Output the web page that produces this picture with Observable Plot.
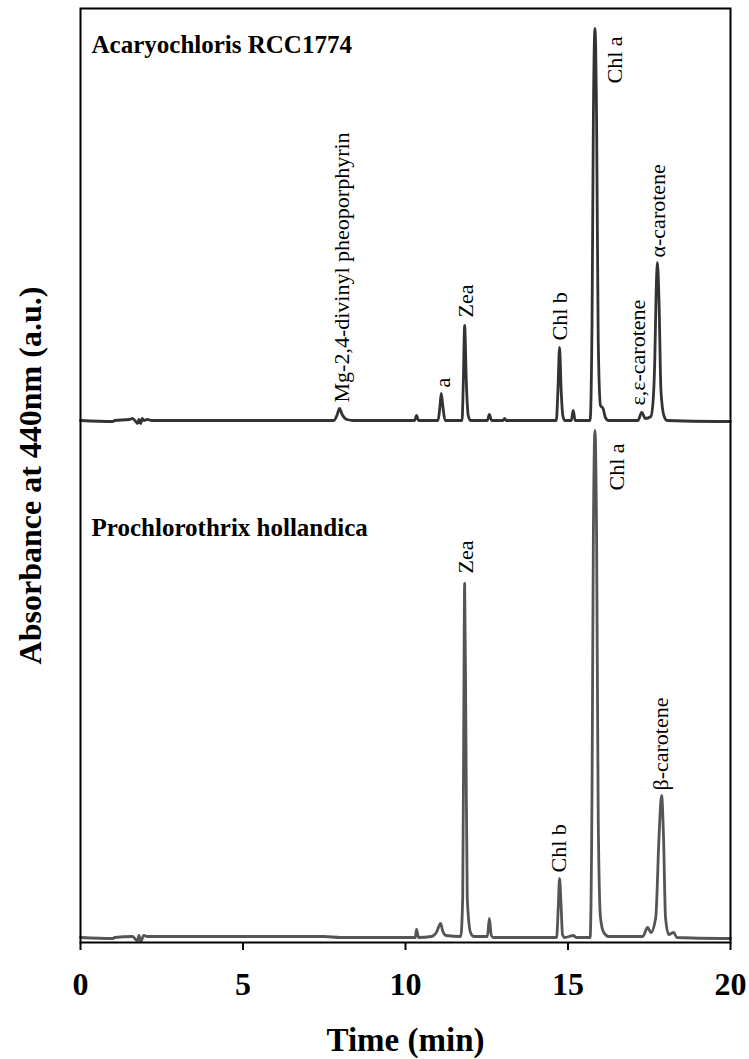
<!DOCTYPE html>
<html>
<head>
<meta charset="utf-8">
<script src="https://cdn.jsdelivr.net/npm/d3@7"></script>
<script src="https://cdn.jsdelivr.net/npm/@observablehq/plot@0.6"></script>
<style>body{margin:0;background:#fff}</style>
</head>
<body>
<div id="chart"></div>
<script>
// x tick values (min)
const xTicks = [0, 5, 10, 15, 20];

// Vertical offsets used to stack the two chromatograms (a.u.)
const upperOffset = 522;
const lowerOffset = 5;

// Acaryochloris RCC1774 trace: time (min) and absorbance above its baseline (a.u.)
const upperTime = [0, 1.0, 1.05, 1.5, 1.6, 1.7, 1.75, 1.8, 1.85, 1.9, 1.95, 2.05, 2.2, 4, 7.8, 7.9, 7.97, 8.05, 8.2, 8.4,
  10.28, 10.34, 10.4, 11.0, 11.06, 11.1, 11.15, 11.22, 11.74, 11.78, 11.82, 11.87, 11.93, 12.0,
  12.52, 12.58, 12.65, 13.0, 13.05, 13.1, 14.64, 14.69, 14.74, 14.79, 14.84, 14.9, 15.1, 15.16, 15.22,
  15.68, 15.74, 15.78, 15.83, 15.88, 15.93, 16.0, 16.08, 16.15, 16.25, 17.15, 17.27, 17.38, 17.55,
  17.62, 17.67, 17.71, 17.75, 17.8, 17.86, 17.95, 18.05, 19.6, 20];
const upperAbs = [0, -1, 0, 1, 2, -1, -3, 1, -3, 2, 0, 1, 0, 0, 0, 6, 12, 6, 1, 0,
  0, 5, 0, 0, 14, 27, 14, 0, 0, 40, 95, 40, 5, 0,
  0, 6, 0, 0, 2, 0, 0, 30, 73, 30, 5, 0, 0, 10, 0,
  0, 100, 300, 392, 300, 80, 15, 12, 3, 0, 0, 8, 2, 4,
  20, 60, 125, 158, 120, 30, 5, 0, -1, -1];

// Prochlorothrix hollandica trace: time (min) and absorbance above its baseline (a.u.)
const lowerTime = [0, 1.0, 1.05, 1.6, 1.7, 1.75, 1.8, 1.85, 1.95, 2.05, 2.2, 3, 7.5, 8,
  10.3, 10.34, 10.4, 10.8, 10.95, 11.08, 11.15, 11.25, 11.7, 11.76, 11.79, 11.82, 11.86, 11.9, 12.0, 12.1,
  12.52, 12.58, 12.64, 12.7, 14.65, 14.7, 14.74, 14.79, 14.83, 14.9, 15.17, 15.25,
  15.68, 15.74, 15.78, 15.83, 15.88, 15.93, 16.0, 16.1, 16.25,
  17.3, 17.45, 17.55, 17.7, 17.8, 17.88, 17.94, 18.0, 18.1, 18.25, 18.35, 19.7, 20];
const lowerAbs = [0, -1, 0, 1, -2, -3, 2, -4, 2, 1, 1, 1, 1, 0,
  0, 8, 0, 1, 5, 14, 6, 2, 1, 40, 200, 354, 200, 40, 5, 1,
  1, 19, 2, 0, 0, 30, 59, 30, 3, 0, 2, 0,
  0, 150, 400, 507, 400, 120, 20, 5, 1,
  1, 10, 5, 20, 100, 142, 100, 20, 3, 5, 0, -1, -1];

// Peak annotations
const peakNames = ["Mg-2,4-divinyl pheoporphyrin", "a", "Zea", "Chl b", "Chl a", "ε,ε-carotene", "α-carotene",
  "Zea", "Chl b", "Chl a", "β-carotene"];
const peakLabelTime = [8.06, 11.14, 11.85, 14.74, 16.46, 17.14, 17.78, 11.85, 14.71, 16.52, 17.85];
const peakLabelAbs = [540, 555, 625, 602, 859, 537, 685, 369, 70, 452, 152];

// Trace titles
const titleNames = ["Acaryochloris RCC1774", "Prochlorothrix hollandica"];
const titleTime = [0.34, 0.34];
const titleAbs = [890, 407];

const upper = upperTime.map((t, i) => ({t, v: upperAbs[i] + upperOffset}));
const lower = lowerTime.map((t, i) => ({t, v: lowerAbs[i] + lowerOffset}));
const peaks = peakNames.map((name, i) => ({name, t: peakLabelTime[i], v: peakLabelAbs[i]}));
const titles = titleNames.map((name, i) => ({name, t: titleTime[i], v: titleAbs[i]}));

const chart = Plot.plot({
  width: 749,
  height: 1059,
  marginLeft: 80,
  marginRight: 19,
  marginTop: 8,
  marginBottom: 117,
  style: {fontFamily: "'Liberation Serif', 'Times New Roman', serif", background: "#fff", color: "#000"},
  x: {domain: [0, 20]},
  y: {domain: [0, 934], axis: null},
  marks: [
    Plot.line(lower, {x: "t", y: "v", stroke: "#555", strokeWidth: 2.8, strokeLinejoin: "round", curve: "monotone-x"}),
    Plot.line(upper, {x: "t", y: "v", stroke: "#333", strokeWidth: 2.8, strokeLinejoin: "round", curve: "monotone-x"}),
    Plot.frame({stroke: "#000", strokeWidth: 2}),
    Plot.axisX({ticks: xTicks, tickSize: 8, tickPadding: 22, fontSize: 32, fontWeight: "bold",
      strokeWidth: 2, label: null, tickFormat: d => String(d)}),
    Plot.text(peaks, {x: "t", y: "v", text: "name", rotate: -90, textAnchor: "start", fontSize: 22, fill: "#000"}),
    Plot.text(titles, {x: "t", y: "v", text: "name", textAnchor: "start", lineAnchor: "bottom",
      fontSize: 25, fontWeight: "bold", fill: "#000"}),
    Plot.text(["Time (min)"], {frameAnchor: "bottom", dy: 108, lineAnchor: "bottom", textAnchor: "middle",
      fontSize: 33, fontWeight: "bold", fill: "#000"}),
    Plot.text(["Absorbance at 440nm (a.u.)"], {frameAnchor: "left", dx: -50, rotate: -90,
      textAnchor: "middle", lineAnchor: "middle", fontSize: 32, fontWeight: "bold", fill: "#000"})
  ]
});
document.getElementById("chart").appendChild(chart);
</script>
</body>
</html>
